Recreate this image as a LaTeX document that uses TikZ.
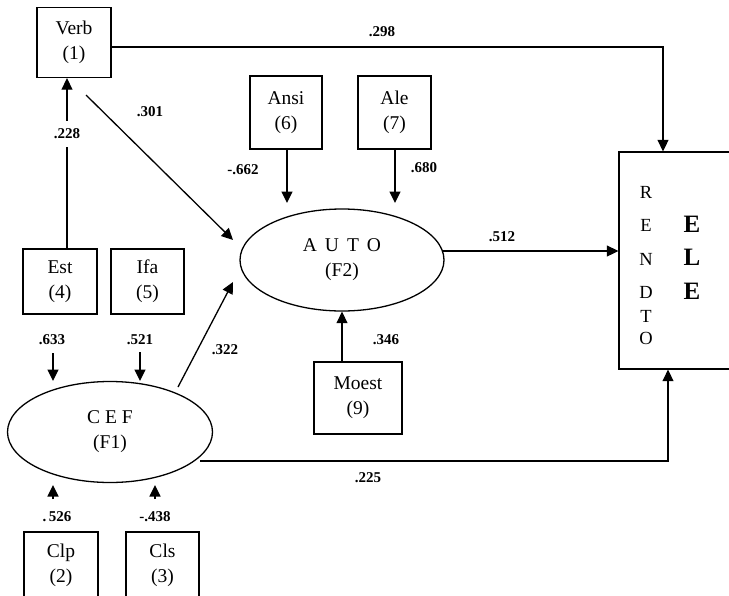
\documentclass[tikz,border=0pt]{standalone}
\usepackage{fontspec}
\setmainfont{Liberation Serif}
\usetikzlibrary{arrows.meta,shapes.geometric}
\begin{document}
\begin{tikzpicture}[x=1pt,y=-1pt]
\tikzset{
 box/.style={draw, line width=1.3pt, inner sep=0pt, align=center, font=\fontsize{19.5}{25}\selectfont},
 lat/.style={draw, ellipse, line width=1.3pt, inner sep=0pt, align=center, font=\fontsize{19.5}{25}\selectfont},
 arr/.style={line width=1.3pt, -{Triangle[length=11.5pt,width=11pt]}},
 lab/.style={font=\fontsize{15}{17}\selectfont\bfseries, inner sep=1pt},
 let/.style={font=\fontsize{18.5}{20}\selectfont, inner sep=0pt},
 big/.style={font=\fontsize{25}{27}\selectfont\bfseries, inner sep=0pt},
}
\clip (0,0) rectangle (729,595);
\fill[white] (0,0) rectangle (729,595);

% boxes
\node[box, minimum width=74pt, minimum height=70pt] (verb) at (74,42.5) {Verb\\(1)};
\node[box, minimum width=74pt, minimum height=65pt] (est) at (60,281.5) {Est\\(4)};
\node[box, minimum width=73pt, minimum height=65pt] (ifa) at (147.5,281.5) {Ifa\\(5)};
\node[box, minimum width=74pt, minimum height=66pt] (clp) at (61,565) {Clp\\(2)};
\node[box, minimum width=73pt, minimum height=66pt] (cls) at (162.5,565) {Cls\\(3)};
\node[box, minimum width=72pt, minimum height=73pt] (ansi) at (286,112.5) {Ansi\\(6)};
\node[box, minimum width=73pt, minimum height=73pt] (ale) at (394.5,112.5) {Ale\\(7)};
\node[box, minimum width=88pt, minimum height=72pt] (moest) at (358,398) {Moest\\(9)};
\node[box, minimum width=116pt, minimum height=217pt] (ele) at (677,260.5) {};

% latent variables
\node[lat, minimum width=205pt, minimum height=101pt] (cef) at (110,432) {C E F\\(F1)};
\node[lat, minimum width=204pt, minimum height=102pt] (auto) at (342,260) {A\hspace{8pt}U\hspace{8pt}T\hspace{8pt}O\\(F2)};

% RENDTO ELE letters
\node[let] (r1) at (646,192) {R};
\node[let] (r2) at (646,225) {E};
\node[let] (r3) at (646,259) {N};
\node[let] (r4) at (646,292) {D};
\node[let] (r5) at (646,316) {T};
\node[let] (r6) at (646,338) {O};
\node[big] (b1) at (692,224) {E};
\node[big] (b2) at (692,257) {L};
\node[big] (b3) at (692,291) {E};

% free coordinates
\coordinate (s301) at (86,95);
\coordinate (t301) at (233,240);
\coordinate (s633) at (53,353);
\coordinate (t633) at (53,381);
\coordinate (s521) at (140,352);
\coordinate (t521) at (140,381);
\coordinate (s322) at (178,387);
\coordinate (t322) at (233,282);
\coordinate (s526) at (53,499);
\coordinate (t526) at (53,485);
\coordinate (s438) at (155,499);
\coordinate (t438) at (155,485);
\coordinate (t662) at (287,203);
\coordinate (t680) at (395,203);
\coordinate (s512) at (443,251);
\coordinate (s225) at (200,461);

% connectors
\draw[arr] ([yshift=-4.5pt]verb.east) -| (ele.north -| 663,0);
\draw[arr] (est.north -| 67,0) -- (verb.south -| 67,0);
\node[lab, fill=white, inner ysep=8pt] (l228) at (67,134) {.228};
\draw[arr] (s301) -- (t301);
\draw[arr] (s633) -- (t633);
\draw[arr] (s521) -- (t521);
\draw[arr] (s322) -- (t322);
\draw[arr] (s526) -- (t526);
\draw[arr] (s438) -- (t438);
\draw[arr] (ansi.south -| t662) -- (t662);
\draw[arr] (ale.south -| t680) -- (t680);
\draw[arr] (moest.north -| 342,0) -- (auto.south -| 342,0);
\draw[arr] (s512) -- (ele.west |- s512);
\draw[arr] (s225) -| (ele.south -| 668,0);

% labels
\node[lab] at (382,32) {.298};
\node[lab] at (150,112) {.301};
\node[lab] at (243,170) {-.662};
\node[lab] at (424,168) {.680};
\node[lab] at (52,340) {.633};
\node[lab] at (140,340) {.521};
\node[lab] at (225,350) {.322};
\node[lab] at (502,237) {.512};
\node[lab] at (386,340) {.346};
\node[lab] at (368,478) {.225};
\node[lab] at (57,517) {.\,526};
\node[lab] at (155,517) {-.438};
\end{tikzpicture}
\end{document}
